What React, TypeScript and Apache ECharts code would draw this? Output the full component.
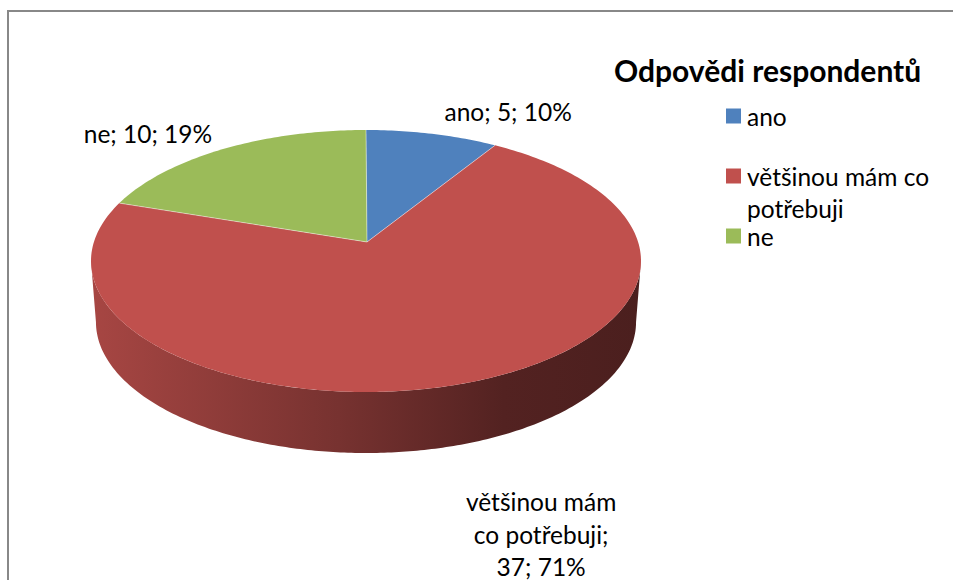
import React, { useEffect, useRef } from "react";
import * as echarts from "echarts";

const TITLE = "Odpovědi respondentů";
const CATEGORIES = ["ano", "většinou mám co potřebuji", "ne"];
const VALUES = [5, 37, 10];
const COLORS = ["#4F81BD", "#C0504D", "#9BBB59"];

// layout (pixels)
const CX = 366;
const CY = 261;
const RX = 275;
const RY = 131;
const APEX = [367, 242];
const DEPTH = 61;
const PERSP = 0.77;
const BOTTOM_SHRINK = 0.982;
const LABEL_OFFSETS = [
  [78, -22],
  [111, 85],
  [-89, -12],
];
const LABEL_WIDTH = 165;
const LEGEND_WIDTH = 200;
const FONT = "Lato";
const FONT_SIZE = 24.5;

function shade(hex: string, f: number) {
  const n = parseInt(hex.slice(1), 16);
  const r = Math.round(((n >> 16) & 255) * f);
  const g = Math.round(((n >> 8) & 255) * f);
  const b = Math.round((n & 255) * f);
  return `rgb(${r},${g},${b})`;
}

let measureCtx: CanvasRenderingContext2D | null = null;
function wrap(text: string, width: number, font: string) {
  if (!measureCtx) measureCtx = document.createElement("canvas").getContext("2d");
  const ctx = measureCtx!;
  ctx.font = font;
  const words = text.split(" ");
  const lines: string[] = [];
  let cur = "";
  words.forEach((w) => {
    const cand = cur ? cur + " " + w : w;
    if (cur && ctx.measureText(cand).width > width) {
      lines.push(cur);
      cur = w;
    } else cur = cand;
  });
  if (cur) lines.push(cur);
  return lines.join("\n");
}

function pt(deg: number) {
  const t = (deg * Math.PI) / 180;
  const phi = Math.atan2(PERSP * Math.sin(t), Math.cos(t));
  return [CX + RX * Math.sin(phi), CY - RY * Math.cos(phi)];
}

function arc(t0: number, t1: number, dy = 0, shrink = 1) {
  const pts: number[][] = [];
  const n = Math.max(2, Math.ceil(Math.abs(t1 - t0)));
  for (let i = 0; i <= n; i++) {
    const t = t0 + ((t1 - t0) * i) / n;
    const p = pt(t);
    pts.push([CX + (p[0] - CX) * shrink, p[1] + dy]);
  }
  return pts;
}

export default function App() {
  const ref = useRef<HTMLDivElement>(null);
  useEffect(() => {
    document.body.style.margin = "0";
    const chart = echarts.init(ref.current!, undefined, { renderer: "svg" });
    const total = VALUES.reduce((a, b) => a + b, 0);
    const starts: number[] = [];
    let acc = 0;
    VALUES.forEach((v) => {
      starts.push(acc);
      acc += v;
    });
    const fontStr = `${FONT_SIZE}px ${FONT}`;

    const renderItem = (params: any, api: any) => {
      const i = params.dataIndex;
      const v = api.value(1);
      const t0 = (starts[i] / total) * 360;
      const t1 = ((starts[i] + v) / total) * 360;
      const color = COLORS[i];
      const children: any[] = [];
      // front side
      const a = Math.max(t0, 90);
      const b = Math.min(t1, 270);
      if (b > a) {
        const top = arc(a, b);
        const bot = arc(b, a, DEPTH, BOTTOM_SHRINK);
        children.push({
          type: "polygon",
          z2: 1,
          shape: { points: top.concat(bot) },
          style: {
            fill: {
              type: "linear",
              x: CX - RX,
              y: 0,
              x2: CX + RX,
              y2: 0,
              global: true,
              colorStops: [
                { offset: 0, color: shade(color, 0.87) },
                { offset: 0.45, color: shade(color, 0.62) },
                { offset: 0.75, color: shade(color, 0.43) },
                { offset: 1, color: shade(color, 0.39) },
              ],
            },
          },
        });
      }
      // top face
      children.push({
        type: "polygon",
        z2: 10,
        shape: { points: [APEX].concat(arc(t0, t1)) },
        style: { fill: color },
      });
      const pStart = pt(t0);
      children.push({
        type: "line",
        z2: 11,
        shape: { x1: APEX[0], y1: APEX[1], x2: pStart[0], y2: pStart[1] },
        style: { stroke: "rgba(255,255,255,0.45)", lineWidth: 1 },
      });
      // label
      const mid = (t0 + t1) / 2;
      const m = pt(mid);
      const dy = mid > 90 && mid < 270 ? DEPTH : 0;
      const pct = Math.round((v / total) * 100);
      children.push({
        type: "text",
        z2: 20,
        x: m[0] + LABEL_OFFSETS[i][0],
        y: m[1] + dy + LABEL_OFFSETS[i][1],
        style: {
          text: wrap(`${CATEGORIES[i]}; ${v}; ${pct}%`, LABEL_WIDTH, fontStr),
          fill: "#000",
          fontFamily: FONT,
          fontSize: FONT_SIZE,
          lineHeight: 32.5,
          align: "center",
          verticalAlign: "middle",
        },
      });
      return { type: "group", children };
    };

    const legend: any[] = [];
    CATEGORIES.forEach((name, i) => {
      const top = 100 + 60 * i;
      legend.push({
        type: "rect",
        shape: { x: 726, y: top + 8.5, width: 15, height: 15 },
        style: { fill: COLORS[i] },
      });
      legend.push({
        type: "text",
        x: 747,
        y: top,
        style: {
          text: wrap(name, LEGEND_WIDTH, fontStr),
          fill: "#000",
          fontFamily: FONT,
          fontSize: FONT_SIZE,
          lineHeight: 32,
          verticalAlign: "top",
        },
      });
    });

    chart.setOption({
      animation: false,
      backgroundColor: "#fff",
      title: {
        text: TITLE,
        left: 609,
        top: 50,
        textStyle: {
          fontFamily: FONT,
          fontWeight: "bold",
          fontSize: 30,
          color: "#000",
        },
      },
      graphic: [
        {
          type: "rect",
          shape: { x: 8, y: 11, width: 1000, height: 1000 },
          style: { fill: "none", stroke: "#888888", lineWidth: 2 },
        },
        ...legend,
      ],
      series: [
        {
          type: "custom",
          coordinateSystem: "none",
          silent: true,
          renderItem,
          data: VALUES.map((v, i) => [i, v]),
        },
      ],
    });
    return () => chart.dispose();
  }, []);
  return <div ref={ref} style={{ width: 953, height: 580 }} />;
}
